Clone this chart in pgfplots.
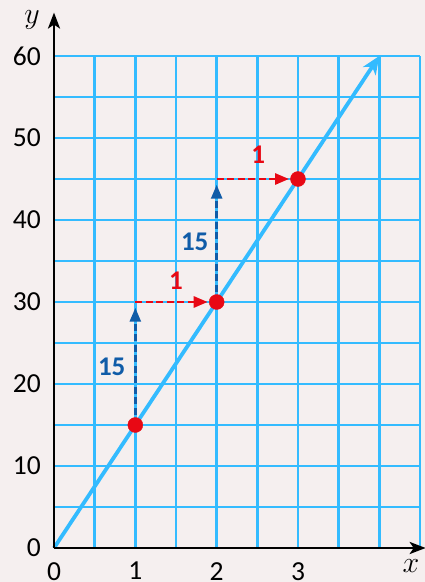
\documentclass[border=0pt]{standalone}
\usepackage{fix-cm}
\usepackage{pgfplots}
\pgfplotsset{compat=1.18}
\usetikzlibrary{arrows.meta}
\usepackage{fontspec}
\setmainfont{Carlito}
\definecolor{bg}{RGB}{245,239,239}
\definecolor{gridblue}{RGB}{51,187,255}
\definecolor{darkblue}{RGB}{16,92,168}
\definecolor{myred}{RGB}{232,8,20}
\begin{document}
\begin{tikzpicture}[x=1pt,y=1pt]
\fill[bg] (-54,-34) rectangle (371,548);
\useasboundingbox (-54,-34) rectangle (371,548);
\begin{axis}[
  scale only axis, width=366pt, height=492pt,
  xmin=0, xmax=4.5, ymin=0, ymax=60,
  clip=false,
  axis line style={draw=none},
  major tick length=0pt, minor tick length=0pt,
  xtick={0,1,2,3}, ytick={0,10,...,60},
  minor xtick={0.5,1.5,2.5,3.5,4,4.5},
  minor ytick={5,15,...,55},
  grid=both,
  major grid style={gridblue, line width=2.7pt},
  minor grid style={gridblue, line width=2.7pt},
  /pgf/number format/assume math mode=true,
  tick label style={font=\fontsize{27.5}{28}\selectfont, inner sep=0pt},
  xticklabel style={anchor=north, yshift=-14pt},
  yticklabel style={anchor=east, xshift=-13pt},
]
% line y = 15x
\addplot[gridblue, line width=3.8pt, -{Stealth[length=18pt,width=15pt,inset=5pt]}]
  coordinates {(0,0) (4,60)};
% vertical steps
\addplot[darkblue, line width=2.7pt, dash pattern=on 7pt off 3.5pt, -{Triangle[length=14pt,width=11pt]}]
  coordinates {(1,15) (1,29.3)};
\addplot[darkblue, line width=2.7pt, dash pattern=on 7pt off 3.5pt, -{Triangle[length=14pt,width=11pt]}]
  coordinates {(2,30) (2,44.3)};
% horizontal steps
\addplot[myred, line width=2.7pt, dash pattern=on 7pt off 3.5pt, -{Triangle[length=14pt,width=11pt]}]
  coordinates {(1,30) (1.89,30)};
\addplot[myred, line width=2.7pt, dash pattern=on 7pt off 3.5pt, -{Triangle[length=14pt,width=11pt]}]
  coordinates {(2,45) (2.89,45)};
% points
\addplot[only marks, mark=*, mark size=7.5pt, myred, mark options={draw=myred, fill=myred}]
  coordinates {(1,15) (2,30) (3,45)};
% axes
\draw[black, line width=2.7pt, -{Stealth[length=16pt,width=12pt,inset=4pt]}] (axis cs:0,0) -- (axis cs:4.57,0);
\draw[black, line width=2.7pt, -{Stealth[length=16pt,width=12pt,inset=4pt]}] (axis cs:0,0) -- (axis cs:0,65.3);
% labels
\node[text=darkblue, font=\bfseries\fontsize{27}{28}\selectfont] at (axis cs:0.71,22.1) {15};
\node[text=darkblue, font=\bfseries\fontsize{27}{28}\selectfont] at (axis cs:1.73,37.3) {15};
\node[text=myred, font=\bfseries\fontsize{27}{28}\selectfont] at (axis cs:1.5,32.6) {1};
\node[text=myred, font=\bfseries\fontsize{27}{28}\selectfont] at (axis cs:2.51,47.9) {1};
\node at (axis cs:4.39,-2.2) {\fontsize{30}{30}\selectfont$x$};
\node at (axis cs:-0.27,64.4) {\fontsize{30}{30}\selectfont$y$};
\end{axis}
\end{tikzpicture}
\end{document}
